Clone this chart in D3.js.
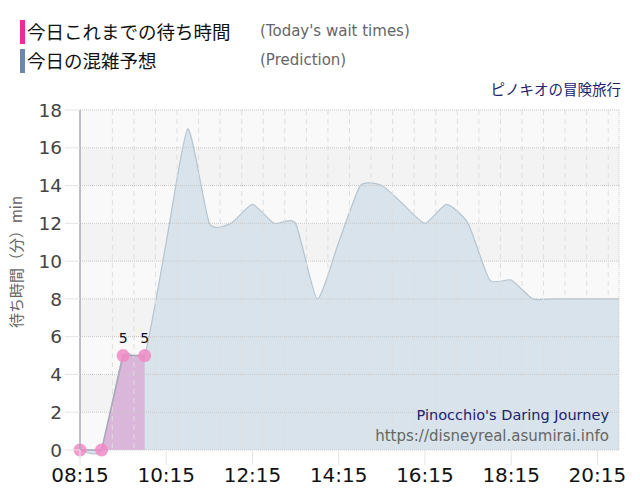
<!DOCTYPE html>
<html>
<head>
<meta charset="utf-8">
<script src="https://cdn.jsdelivr.net/npm/d3@7"></script>
<style>
  body { margin: 0; background: #fff; }
  svg { display: block; }
</style>
</head>
<body>
<div id="chart"></div>
<script>
// today's actual wait times (minutes)
const actualTimes = ['08:15', '08:45', '09:15', '09:45'];
const actualValues = [0, 0, 5, 5];

// prediction for the day, every 30 min
const predTimes = ['08:15', '08:45', '09:15', '09:45', '10:15', '10:45', '11:15', '11:45',
    '12:15', '12:45', '13:15', '13:45', '14:15', '14:45', '15:15', '15:45', '16:15', '16:45',
    '17:15', '17:45', '18:15', '18:45', '19:15', '19:45', '20:15', '20:45'];
const predValues = [0, 0, 5, 5, 11, 17, 12, 12, 13, 12, 12, 8, 11, 14, 14, 13, 12, 13,
    12, 9, 9, 8, 8, 8, 8, 8];

const xTickLabels = ['08:15', '10:15', '12:15', '14:15', '16:15', '18:15', '20:15'];
const yTicks = [0, 2, 4, 6, 8, 10, 12, 14, 16, 18];

const width = 640;
const height = 500;
const margin = { top: 110, right: 21, bottom: 50, left: 80 };

const parseTime = d3.timeParse('%H:%M');

const svg = d3.select('#chart').append('svg')
    .attr('width', width)
    .attr('height', height);

const x = d3.scaleTime()
    .domain([parseTime('08:15'), parseTime('20:45')])
    .range([margin.left, width - margin.right]);

const y = d3.scaleLinear()
    .domain([0, 18])
    .range([height - margin.bottom, margin.top]);

// background bands
const bands = d3.range(0, 18, 2);
svg.selectAll('.band')
    .data(bands)
    .enter().append('rect')
    .attr('class', 'band')
    .attr('x', margin.left)
    .attr('width', x.range()[1] - margin.left)
    .attr('y', d => y(d + 2))
    .attr('height', d => y(d) - y(d + 2))
    .style('fill', d => (d / 2) % 2 === 0 ? '#f9f9f9' : '#f3f3f3');

// prediction area
const predData = predTimes.map((t, i) => ({ t: parseTime(t), v: predValues[i] }));
const curve = d3.curveCardinal.tension(0.45);
const predArea = d3.area()
    .x(d => x(d.t))
    .y0(y(0))
    .y1(d => y(d.v))
    .curve(curve);
const predLine = d3.line()
    .x(d => x(d.t))
    .y(d => y(d.v))
    .curve(curve);

svg.append('path')
    .datum(predData)
    .attr('d', predArea)
    .style('fill', '#d9e3eb');
svg.append('path')
    .datum(predData)
    .attr('d', predLine)
    .style('fill', 'none')
    .style('stroke', '#b4c4d0')
    .style('stroke-width', 1.2);

// actual area
const actData = actualTimes.map((t, i) => ({ t: parseTime(t), v: actualValues[i] }));
const actArea = d3.area()
    .x(d => x(d.t))
    .y0(y(0))
    .y1(d => y(d.v));
const actLine = d3.line()
    .x(d => x(d.t))
    .y(d => y(d.v));

svg.append('path')
    .datum(actData)
    .attr('d', actArea)
    .style('fill', '#dbb6db');

// grid lines drawn on top of the areas
const halfHours = d3.timeMinute.every(30).range(parseTime('08:15'), parseTime('20:46'));
svg.selectAll('.vgrid')
    .data(halfHours.slice(1))
    .enter().append('line')
    .attr('class', 'vgrid')
    .attr('x1', d => x(d))
    .attr('x2', d => x(d))
    .attr('y1', margin.top)
    .attr('y2', y(0))
    .style('stroke', '#dedede')
    .style('stroke-dasharray', '5,4');

svg.selectAll('.hgrid')
    .data(yTicks)
    .enter().append('line')
    .attr('class', 'hgrid')
    .attr('x1', margin.left)
    .attr('x2', x.range()[1])
    .attr('y1', d => y(d))
    .attr('y2', d => y(d))
    .style('stroke', '#c8c8c8')
    .style('stroke-dasharray', '1,1');

// right edge
svg.append('line')
    .attr('x1', x.range()[1]).attr('x2', x.range()[1])
    .attr('y1', margin.top).attr('y2', y(0))
    .style('stroke', '#cccccc')
    .style('stroke-dasharray', '1,1');

// actual line + markers
svg.append('path')
    .datum(actData)
    .attr('d', actLine)
    .style('fill', 'none')
    .style('stroke', '#a8a8b8')
    .style('stroke-width', 1.5);

svg.selectAll('.marker')
    .data(actData)
    .enter().append('circle')
    .attr('class', 'marker')
    .attr('cx', d => x(d.t))
    .attr('cy', d => y(d.v))
    .attr('r', 6.5)
    .style('fill', '#f08ac6')
    .style('opacity', 0.85);

svg.selectAll('.marker-label')
    .data(actData.filter(d => d.v > 0))
    .enter().append('text')
    .attr('class', 'marker-label')
    .attr('x', d => x(d.t))
    .attr('y', d => y(d.v) - 13)
    .style('text-anchor', 'middle')
    .style('font-family', '"DejaVu Sans", sans-serif')
    .style('font-size', '14px')
    .style('fill', '#111')
    .text(d => d.v);

// y axis
svg.append('line')
    .attr('x1', margin.left).attr('x2', margin.left)
    .attr('y1', margin.top).attr('y2', y(0))
    .style('stroke', '#a9a9b8')
    .style('stroke-width', 1.5);

svg.selectAll('.ytick')
    .data(yTicks)
    .enter().append('line')
    .attr('class', 'ytick')
    .attr('x1', margin.left - 15)
    .attr('x2', margin.left)
    .attr('y1', d => y(d))
    .attr('y2', d => y(d))
    .style('stroke', '#e4e4e4');

svg.selectAll('.ylabel')
    .data(yTicks)
    .enter().append('text')
    .attr('class', 'ylabel')
    .attr('x', 62)
    .attr('y', d => y(d))
    .attr('dy', '0.36em')
    .style('text-anchor', 'end')
    .style('font-family', '"DejaVu Sans", sans-serif')
    .style('font-size', '18.5px')
    .style('fill', '#444')
    .text(d => d);

// x axis ticks + labels
svg.selectAll('.xtick')
    .data(xTickLabels)
    .enter().append('line')
    .attr('class', 'xtick')
    .attr('x1', d => x(parseTime(d)))
    .attr('x2', d => x(parseTime(d)))
    .attr('y1', y(0))
    .attr('y2', y(0) + 15)
    .style('stroke', '#e4e4e4');

svg.selectAll('.xlabel')
    .data(xTickLabels)
    .enter().append('text')
    .attr('class', 'xlabel')
    .attr('x', d => x(parseTime(d)))
    .attr('y', 482)
    .style('text-anchor', 'middle')
    .style('font-family', '"DejaVu Sans", sans-serif')
    .style('font-size', '20px')
    .style('fill', '#111')
    .text(d => d);

// y axis title
svg.append('text')
    .attr('transform', 'translate(22,262) rotate(-90)')
    .style('text-anchor', 'middle')
    .style('font-family', '"Noto Sans CJK JP", sans-serif')
    .style('font-size', '15px')
    .style('fill', '#666')
    .text('待ち時間（分）min');

// legend
const legend = [
    { color: '#ee2a9a', ja: '今日これまでの待ち時間', en: "(Today's wait times)" },
    { color: '#6b87ae', ja: '今日の混雑予想', en: '(Prediction)' }
];
const lg = svg.selectAll('.legend')
    .data(legend)
    .enter().append('g')
    .attr('class', 'legend')
    .attr('transform', (d, i) => `translate(0,${i * 29})`);
lg.append('rect')
    .attr('x', 20)
    .attr('y', 20)
    .attr('width', 5)
    .attr('height', 24)
    .style('fill', d => d.color);
lg.append('text')
    .attr('x', 27)
    .attr('y', 39)
    .style('font-family', '"Noto Sans CJK JP", sans-serif')
    .style('font-size', '18.5px')
    .style('fill', '#111')
    .text(d => d.ja);
lg.append('text')
    .attr('x', 260)
    .attr('y', 36)
    .style('font-family', '"DejaVu Sans", sans-serif')
    .style('font-size', '15px')
    .style('fill', '#666')
    .text(d => d.en);

// attraction name
svg.append('text')
    .attr('x', 621)
    .attr('y', 95)
    .style('text-anchor', 'end')
    .style('font-family', '"Noto Sans CJK JP", sans-serif')
    .style('font-size', '14.5px')
    .style('fill', '#22226e')
    .text('ピノキオの冒険旅行');

svg.append('text')
    .attr('x', 609)
    .attr('y', 420)
    .style('text-anchor', 'end')
    .style('font-family', '"DejaVu Sans", sans-serif')
    .style('font-size', '14.5px')
    .style('fill', '#22226e')
    .text("Pinocchio's Daring Journey");

svg.append('text')
    .attr('x', 609)
    .attr('y', 441)
    .style('text-anchor', 'end')
    .style('font-family', '"DejaVu Sans", sans-serif')
    .style('font-size', '15px')
    .style('fill', '#666')
    .text('https://disneyreal.asumirai.info');
</script>
</body>
</html>
